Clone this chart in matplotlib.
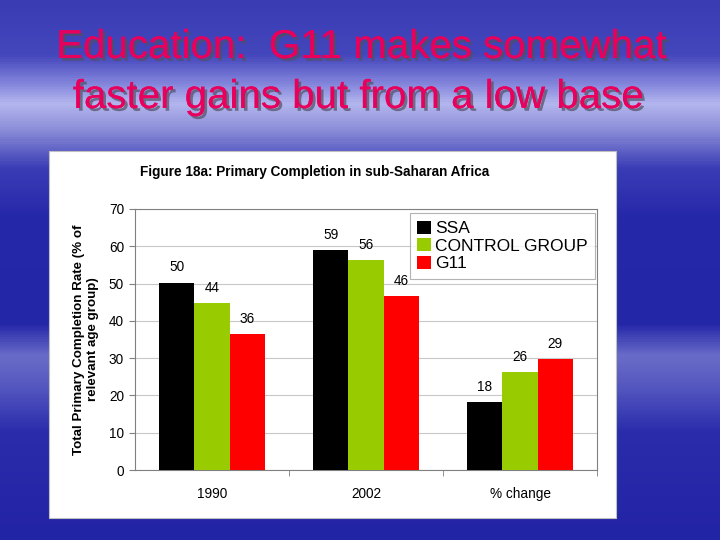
import numpy as np
import matplotlib
matplotlib.use('Agg')
import matplotlib.pyplot as plt
import matplotlib.patheffects as pe
from matplotlib.patches import Rectangle, Patch
from matplotlib.colors import LinearSegmentedColormap

plt.rcParams['font.family'] = ['Liberation Sans', 'DejaVu Sans']

# data
categories = ['1990', '2002', '% change']
ssa = [50.2, 59.0, 18.2]
control = [44.7, 56.2, 26.3]
g11 = [36.5, 46.7, 29.8]
series_names = ['SSA', 'CONTROL GROUP', 'G11']
series_colors = ['#000000', '#99cc00', '#ff0000']

fig = plt.figure(figsize=(7.2, 5.4), dpi=100)

# slide background: blue gradient
bg = fig.add_axes([0, 0, 1, 1])
bg.set_axis_off()
bg.set_zorder(-5)
stops = [(0.0, '#3a3cb4'), (0.10, '#4446bc'), (0.16, '#8c8ee0'), (0.19, '#b4b6ee'),
         (0.24, '#8a8cd8'), (0.31, '#3a3cb6'), (0.40, '#2628aa'), (0.60, '#2426a8'),
         (0.66, '#6a6cc8'), (0.72, '#5456c0'), (0.80, '#2a2cab'), (1.0, '#2224a6')]
cmap = LinearSegmentedColormap.from_list('slide', stops)
grad = np.linspace(0, 1, 540).reshape(-1, 1)
bg.imshow(grad, aspect='auto', cmap=cmap, extent=[0, 1, 0, 1], origin='upper')
bg.set_xlim(0, 1)
bg.set_ylim(0, 1)

# slide title
shadow = [pe.withSimplePatchShadow(offset=(2, -2), shadow_rgbFace='#505060', alpha=0.7), pe.Normal()]
fig.text(0.502, 1 - 47 / 540, 'Education:  G11 makes somewhat', ha='center', va='center',
         fontsize=29, color='#e8005c', path_effects=shadow)
fig.text(0.498, 1 - 97 / 540, 'faster gains but from a low base', ha='center', va='center',
         fontsize=29, color='#e8005c', path_effects=shadow)

# white chart panel
fig.patches.append(Rectangle((49 / 720, 1 - 518 / 540), 567 / 720, 367 / 540,
                             transform=fig.transFigure, facecolor='white',
                             edgecolor='#c0c0c0', linewidth=0.8, zorder=-1))

fig.text(315 / 720, 1 - 172 / 540, 'Figure 18a: Primary Completion in sub-Saharan Africa',
         ha='center', va='center', fontsize=9.8, fontweight='bold')

ax = fig.add_axes([135 / 720, 1 - 470 / 540, 462 / 720, 261 / 540])
ax.set_zorder(2)
ax.set_facecolor('white')
x = np.arange(len(categories))
w = 0.23
for i, (vals, name, col) in enumerate(zip([ssa, control, g11], series_names, series_colors)):
    pos = x + (i - 1) * w
    ax.bar(pos, vals, width=w, color=col, zorder=3, label=name)
    for p, v in zip(pos, vals):
        ax.annotate(str(int(v)), (p, v), xytext=(0, 6), textcoords='offset points',
                    ha='center', va='bottom', fontsize=9.8)

ax.set_xlim(-0.5, 2.5)
ax.set_ylim(0, 70)
ax.set_yticks(range(0, 71, 10))
ax.yaxis.grid(True, color='#c8c8c8', linewidth=0.8, zorder=0)
ax.set_xticks(x)
ax.set_xticklabels(categories, fontsize=9.8)
ax.set_xticks([0.5, 1.5, 2.5], minor=True)
ax.tick_params(axis='x', which='major', length=0, pad=12)
ax.tick_params(axis='x', which='minor', length=4, color='#808080')
ax.tick_params(axis='y', labelsize=9.8, length=4, color='#808080', pad=4)
for s in ax.spines.values():
    s.set_color('#808080')
    s.set_linewidth(0.8)
ax.set_ylabel('Total Primary Completion Rate (% of\nrelevant age group)', fontsize=9.6,
              fontweight='bold', labelpad=7, linespacing=1.25)

handles = [Patch(facecolor=c, edgecolor='none') for c in series_colors]
leg = ax.legend(handles, series_names, loc='upper right', bbox_to_anchor=(0.996, 0.985),
                fontsize=12.5, frameon=True, fancybox=False, borderaxespad=0,
                handlelength=0.8, handleheight=0.8, handletextpad=0.2,
                labelspacing=0.1, borderpad=0.45)
leg.get_frame().set_edgecolor('#a0a0a0')
leg.get_frame().set_linewidth(0.8)
leg.set_zorder(5)

fig.savefig('out.png', dpi=100)
